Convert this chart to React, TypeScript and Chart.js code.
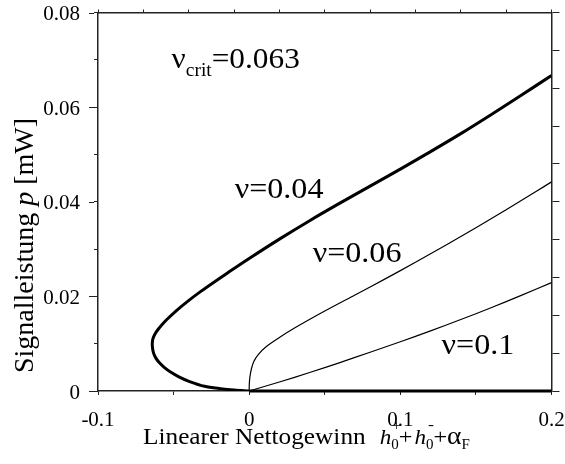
import React, { useEffect, useRef } from 'react';
import { Chart, registerables } from 'chart.js';

Chart.register(...registerables);

const SERIF = '"Liberation Serif", "Times New Roman", serif';

// nu = 0.04: lower branch from the origin round the turning point, then the upper branch
const nu004Gain = [0, -0.01, -0.019, -0.0295, -0.0394, -0.0465, -0.052, -0.0562, -0.0595, -0.0618, -0.0632, -0.0639, -0.0641, -0.0637, -0.0624, -0.0603, -0.0577, -0.0548, -0.0481, -0.0405, -0.0322, -0.0233, -0.0141, 0, 0.02, 0.04, 0.06, 0.08, 0.1, 0.12, 0.14, 0.16, 0.18, 0.2];
const nu004Power = [0, 0.0002, 0.0005, 0.001, 0.002, 0.003, 0.004, 0.005, 0.006, 0.007, 0.008, 0.009, 0.01, 0.011, 0.012, 0.013, 0.014, 0.015, 0.017, 0.019, 0.021, 0.023, 0.025, 0.028, 0.0321, 0.036, 0.0397, 0.0433, 0.0469, 0.0506, 0.0544, 0.0584, 0.0625, 0.0667];

// nu = 0.06
const nu006Gain = [0, 0.0001, 0.0005, 0.0015, 0.003, 0.006, 0.0114, 0.02, 0.03, 0.05, 0.07, 0.09, 0.11, 0.13, 0.15, 0.17, 0.19, 0.2];
const nu006Power = [0, 0.0015, 0.003, 0.0047, 0.0062, 0.0077, 0.0094, 0.0113, 0.0133, 0.0169, 0.0203, 0.0237, 0.0272, 0.0308, 0.0345, 0.0383, 0.0422, 0.0442];

// nu = 0.1
const nu01Gain = [0, 0.02, 0.04, 0.06, 0.08, 0.1, 0.12, 0.14, 0.16, 0.18, 0.2];
const nu01Power = [0, 0.0019, 0.0039, 0.006, 0.0082, 0.0104, 0.0127, 0.0151, 0.0176, 0.0202, 0.0229];

// trivial solution p = 0 above threshold
const zeroGain = [0, 0.2];
const zeroPower = [0, 0];

// tick labels
const xTickValues = [-0.1, 0, 0.1, 0.2];
const xTickLabels = ['-0.1', '0', '0.1', '0.2'];
const yTickValues = [0, 0.02, 0.04, 0.06, 0.08];
const yTickLabels = ['0', '0.02', '0.04', '0.06', '0.08'];

// curve annotations, anchored in data units (left edge, baseline)
const curveLabels = [
  { text: 'ν=0.04', x: -0.0096, y: 0.0408 },
  { text: 'ν=0.06', x: 0.042, y: 0.0273 },
  { text: 'ν=0.1', x: 0.1273, y: 0.0078 },
];
const critLabel = { x: -0.0513, y: 0.0683, value: '=0.063' };

const toPoints = (xs: number[], ys: number[]) => xs.map((x, i) => ({ x, y: ys[i] }));

const labelFor = (values: number[], labels: string[]) => (v: number | string) => {
  const n = Number(v);
  const i = values.findIndex((t) => Math.abs(t - n) < 1e-9);
  return i >= 0 ? labels[i] : '';
};

const AXIS = '#222';

// fixed axis box sizes; label overhang is not allowed to shrink the plot area
const fixBox = (size: number) => (s: any) => {
  if (s.isHorizontal()) s.height = size;
  else s.width = size;
  s.paddingLeft = 0;
  s.paddingRight = 0;
  s.paddingTop = 0;
  s.paddingBottom = 0;
};

function drawScaled(ctx: CanvasRenderingContext2D, text: string, x: number, y: number, font: string, sx = 1) {
  ctx.save();
  ctx.font = font;
  ctx.translate(x, y);
  ctx.scale(sx, 1);
  ctx.fillText(text, 0, 0);
  const w = ctx.measureText(text).width * sx;
  ctx.restore();
  return w;
}

const textPlugin = {
  id: 'textPlugin',
  afterDraw(chart: any) {
    const ctx: CanvasRenderingContext2D = chart.ctx;
    const xs = chart.scales.x;
    const ys = chart.scales.y;
    const area = chart.chartArea;

    // longer major ticks on the left axis
    ctx.save();
    ctx.strokeStyle = AXIS;
    ctx.lineWidth = 1;
    for (const v of yTickValues) {
      const py = Math.round(ys.getPixelForValue(v)) + 0.5;
      ctx.beginPath();
      ctx.moveTo(area.left - 9, py);
      ctx.lineTo(area.left - 4, py);
      ctx.stroke();
    }
    ctx.restore();

    ctx.save();
    ctx.fillStyle = '#000';
    ctx.textBaseline = 'alphabetic';
    ctx.textAlign = 'left';

    // curve labels
    for (const l of curveLabels) {
      drawScaled(ctx, l.text, xs.getPixelForValue(l.x), ys.getPixelForValue(l.y), `30px ${SERIF}`, 1.07);
    }

    // nu_crit label
    let cx = xs.getPixelForValue(critLabel.x);
    const cy = ys.getPixelForValue(critLabel.y);
    cx += drawScaled(ctx, 'ν', cx, cy, `29px ${SERIF}`, 1.08);
    cx += drawScaled(ctx, 'crit', cx, cy + 8, `18px ${SERIF}`, 1.08);
    drawScaled(ctx, critLabel.value, cx, cy, `29px ${SERIF}`, 1.08);

    // x axis title
    const by = 444;
    let tx = 143;
    tx += drawScaled(ctx, 'Linearer Nettogewinn', tx, by, `23px ${SERIF}`, 1.1);
    tx += 14;
    const mainF = `22px ${SERIF}`;
    const itF = `italic 22px ${SERIF}`;
    const smallF = `15px ${SERIF}`;
    tx += drawScaled(ctx, 'h', tx, by, itF, 1.05);
    drawScaled(ctx, '+', tx + 1, by - 14, smallF, 1);
    tx += drawScaled(ctx, '0', tx, by + 5, smallF, 1);
    tx += drawScaled(ctx, '+', tx, by, mainF, 1.1);
    tx += 2;
    tx += drawScaled(ctx, 'h', tx, by, itF, 1.05);
    drawScaled(ctx, '-', tx + 2, by - 15, smallF, 1.2);
    tx += drawScaled(ctx, '0', tx, by + 5, smallF, 1);
    tx += drawScaled(ctx, '+', tx, by, mainF, 1.1);
    tx += drawScaled(ctx, 'α', tx, by, `25px ${SERIF}`, 1.1);
    drawScaled(ctx, 'F', tx, by + 5, smallF, 1);

    // y axis title, rotated, reading upwards
    ctx.save();
    ctx.translate(33, 373);
    ctx.rotate(-Math.PI / 2);
    let ry = 0;
    ctx.font = `28px ${SERIF}`;
    ctx.fillText('Signalleistung ', ry, 0);
    ry += ctx.measureText('Signalleistung ').width;
    ctx.font = `italic 28px ${SERIF}`;
    ctx.fillText('p', ry, 0);
    ry += ctx.measureText('p').width;
    ctx.font = `28px ${SERIF}`;
    ctx.fillText(' [mW]', ry, 0);
    ctx.restore();

    ctx.restore();
  },
};

export default function App() {
  const ref = useRef<HTMLCanvasElement | null>(null);

  useEffect(() => {
    if (!ref.current) return;
    const line = (xs: number[], ys: number[], width: number, clip: any = undefined) => ({
      data: toPoints(xs, ys),
      showLine: true,
      borderColor: '#000',
      backgroundColor: '#000',
      borderWidth: width,
      pointRadius: 0,
      tension: 0.3,
      fill: false,
      ...(clip !== undefined ? { clip } : {}),
    });

    const chart = new Chart(ref.current, {
      type: 'scatter',
      data: {
        datasets: [
          line(zeroGain, zeroPower, 3, false),
          line(nu01Gain, nu01Power, 1.2),
          line(nu006Gain, nu006Power, 1.2),
          line(nu004Gain, nu004Power, 3),
        ] as any,
      },
      options: {
        responsive: false,
        animation: false,
        events: [],
        layout: { padding: 0, autoPadding: false },
        plugins: { legend: { display: false }, tooltip: { enabled: false } },
        scales: {
          x: {
            type: 'linear',
            position: 'bottom',
            min: -0.1,
            max: 0.2,
            afterFit: fixBox(73),
            ticks: {
              stepSize: 0.05,
              autoSkip: false,
              maxRotation: 0,
              padding: 15,
              color: '#000',
              font: { family: SERIF, size: 21, lineHeight: 1 },
              callback: labelFor(xTickValues, xTickLabels),
            },
            grid: { drawOnChartArea: false, tickLength: 4, color: AXIS, tickWidth: 1 },
            border: { color: AXIS, width: 1.5 },
          },
          y: {
            type: 'linear',
            position: 'left',
            min: 0,
            max: 0.08,
            afterFit: fixBox(98),
            ticks: {
              stepSize: 0.01,
              autoSkip: false,
              padding: 14,
              labelOffset: 2,
              color: '#000',
              font: { family: SERIF, size: 21, lineHeight: 1 },
              callback: labelFor(yTickValues, yTickLabels),
            },
            grid: { drawOnChartArea: false, tickLength: 4, color: AXIS, tickWidth: 1 },
            border: { color: AXIS, width: 1.5 },
          },
          x2: {
            type: 'linear',
            position: 'top',
            min: -0.1,
            max: 0.2,
            afterFit: fixBox(12.5),
            ticks: { stepSize: 0.03, display: false, autoSkip: false },
            grid: { drawOnChartArea: false, tickLength: 3, color: AXIS, tickWidth: 1 },
            border: { color: AXIS, width: 1.5 },
          },
          y2: {
            type: 'linear',
            position: 'right',
            min: 0,
            max: 0.08,
            afterFit: fixBox(13.5),
            ticks: { stepSize: 0.008, display: false, autoSkip: false },
            grid: { drawOnChartArea: false, tickLength: 8, color: AXIS, tickWidth: 1 },
            border: { color: AXIS, width: 1.5 },
          },
        },
      } as any,
      plugins: [textPlugin],
    });
    return () => chart.destroy();
  }, []);

  return (
    <div style={{ position: 'absolute', left: 0, top: 0, width: 565, height: 464, background: '#fff' }}>
      <canvas ref={ref} width={565} height={464} style={{ display: 'block' }} />
    </div>
  );
}
